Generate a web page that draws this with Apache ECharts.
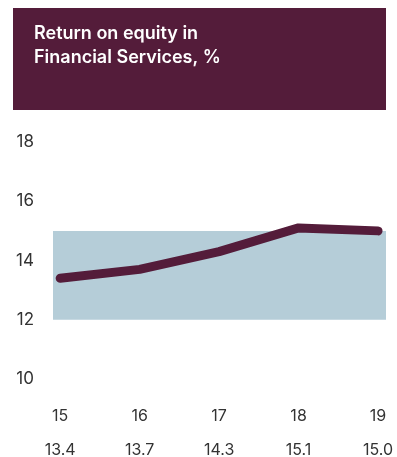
<!DOCTYPE html>
<html><head><meta charset="utf-8">
<script src="https://cdn.jsdelivr.net/npm/echarts@6/dist/echarts.min.js"></script>
<style>html,body{margin:0;padding:0;background:#fff}#c{width:397px;height:457px}</style>
</head><body><div id="c"></div>
<script>
const years = [15, 16, 17, 18, 19];
const roe = [13.4, 13.7, 14.3, 15.1, 15.0];
const yTicks = [10, 12, 14, 16, 18];
const bandLow = 12, bandHigh = 15;
const titleText = 'Return on equity in\nFinancial Services, %';

const maroon = '#541c3a';
const chart = echarts.init(document.getElementById('c'), null, {renderer: 'canvas'});
chart.setOption({
  animation: false,
  graphic: [{type: 'rect', shape: {x: 13, y: 8, width: 373, height: 102}, style: {fill: maroon}, z: 0}],
  title: {text: titleText, left: 29, top: 17, textStyle: {color: '#fff', fontFamily: 'Inter', fontWeight: 600, fontSize: 18, lineHeight: 24}},
  grid: {left: 53, right: 11, top: 142, bottom: 78, outerBoundsMode: 'none', containLabel: false},
  xAxis: {
    type: 'value', min: 14.91, max: 19.1,
    axisLine: {show: false}, axisTick: {show: false}, splitLine: {show: false},
    axisLabel: {
      customValues: years, margin: 20,
      formatter: function (v) { const i = years.indexOf(v); return '{a|' + v + '}\n{b|' + roe[i].toFixed(1) + '}'; },
      rich: {a: {fontSize: 16, lineHeight: 34, color: '#333', fontFamily: 'Inter'}, b: {fontSize: 16, lineHeight: 34, color: '#333', fontFamily: 'Inter'}}
    }
  },
  yAxis: {
    type: 'value', min: 10, max: 18, interval: 2,
    axisLine: {show: false}, axisTick: {show: false}, splitLine: {show: false},
    axisLabel: {margin: 19, fontSize: 17, color: '#333', fontFamily: 'Inter', customValues: yTicks, padding: [5, 0, 0, 0]}
  },
  series: [{
    type: 'line', data: years.map((y, i) => [y, roe[i]]), symbol: 'none',
    lineStyle: {color: maroon, width: 9, cap: 'round', join: 'round'},
    markArea: {silent: true, itemStyle: {color: '#b5cdd8'}, data: [[{yAxis: bandLow}, {yAxis: bandHigh}]]},
    z: 3
  }]
});
</script></body></html>
